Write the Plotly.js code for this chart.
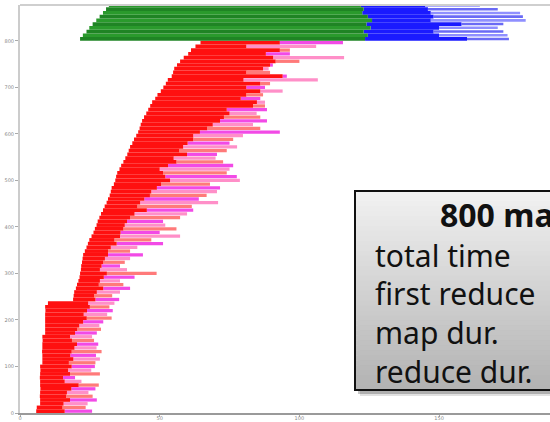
<!DOCTYPE html>
<html>
<head>
<meta charset="utf-8">
<script src="https://cdn.plot.ly/plotly-3.0.1.min.js"></script>
<style>html,body{margin:0;padding:0;background:#fff;}#chart{width:550px;height:422px;}</style>
</head>
<body>
<div id="chart"></div>
<script>
// ---- Map tasks, grouped 8 tasks per row (row 0 = tasks 0-7, ... row 99 = tasks 792-799) ----
const mapStart = [5.8,6.0,7.2,7.2,7.1,7.2,7.3,7.2,7.2,7.1,7.2,7.3,7.2,8.0,8.0,8.0,7.9,8.0,8.0,8.1,8.0,9.0,9.0,9.0,9.0,9.0,9.0,9.1,9.0,10.0,
  19.0,19.2,19.4,20.0,20.4,20.9,21.3,21.5,21.8,21.9,22.2,22.4,22.6,23.2,23.8,24.3,24.8,25.6,26.3,26.8,
  27.4,27.8,28.4,29.0,29.7,30.3,31.0,31.5,32.1,32.5,32.8,33.6,34.1,34.4,34.8,35.6,36.2,37.0,37.7,38.4,
  38.9,39.4,40.2,40.8,41.6,42.3,42.8,43.2,43.7,44.4,45.2,45.9,46.6,47.3,48.4,49.2,50.4,51.3,52.2,52.9,
  54.3,54.8,55.2,56.2,57.3,58.6,60.2,61.2,62.8,64.6];
const mapRedEnd = [16.0,15.2,15.6,17.9,16.5,16.8,18.4,21.0,16.0,15.4,17.9,17.2,18.5,17.5,19.1,18.0,18.5,19.5,20.4,18.6,
  17.9,19.7,20.5,21.2,22.6,23.9,22.8,24.0,25.0,24.4,27.0,26.5,27.5,29.8,28.2,28.6,30.0,31.1,28.6,29.2,
  29.8,30.4,31.5,31.5,32.5,34.6,33.8,35.8,36.0,37.0,37.5,38.3,39.4,41.0,45.4,42.0,43.0,44.5,46.5,47.0,
  49.0,50.5,53.7,52.0,51.2,50.0,53.0,56.0,55.0,59.8,57.0,58.4,60.0,62.0,62.0,64.4,67.0,69.0,71.6,73.0,
  75.0,74.0,83.4,84.8,79.0,81.0,86.0,81.0,86.0,80.0,94.0,81.0,87.0,89.5,91.5,90.6,88.0,93.0,81.0,93.0];
const mapEnd = [25.8,23.5,24.2,27.5,26.0,24.5,27.0,28.2,22.0,19.7,28.6,25.5,26.8,27.0,28.6,27.2,29.2,27.4,28.0,26.5,
  25.8,27.5,29.0,28.4,29.8,32.8,31.2,33.2,32.0,33.8,35.5,33.0,35.8,39.4,37.0,35.8,41.0,48.9,38.3,35.8,
  37.5,39.4,44.0,39.4,42.0,51.2,47.0,57.3,50.0,56.0,52.0,51.2,57.3,59.8,62.0,61.5,70.9,64.0,66.8,70.5,
  71.6,68.0,78.7,77.6,74.0,75.0,76.3,72.7,70.0,70.5,74.0,77.7,75.0,76.3,79.8,93.0,86.0,83.4,88.4,86.0,
  84.7,88.4,87.7,87.7,86.0,87.0,94.0,87.7,89.5,106.6,95.5,89.5,89.0,90.5,100.0,116.0,96.6,96.6,106.0,115.6];

// ---- Reduce tasks, grouped 8 per row (row 0 = tasks 800-807 ...) ----
const redStart   = [21.5,22.5,23.8,24.8,26.0,27.3,28.5,29.7,30.8,31.8];
const shuffleEnd = [123.5,124.5,123.0,125.5,124.0,126.0,124.5,122.5,123.0,122.0];
const reduceEnd  = [160,150,148,150,158,147,148,147,146,145];
const reduceTail = [175,174.5,173,171,173,181,180,179,171,164.6];

const yTicks = [0,100,200,300,400,500,600,700,800];
const xTicks = [0,50,100,150];

const boxTitle = "800 maps";
const boxLines = ["total time","first reduce","map dur.","reduce dur."];

// ---- build traces ----
const GROUP = 8;
const mapY = mapStart.map((_, i) => i * GROUP + GROUP / 2);
const redY = redStart.map((_, i) => 800 + i * GROUP + GROUP / 2);
const tailColors = ['#f24ae6', '#ff7a7a', '#ff8fc8'];

const traces = [];
traces.push({
  type:'bar', orientation:'h', y:mapY, base:mapRedEnd,
  x:mapEnd.map((e,i)=>e-mapRedEnd[i]), width:7,
  marker:{color:mapY.map((_,i)=> tailColors[i%3]), line:{width:0}},
  hoverinfo:'skip'
});
traces.push({
  type:'bar', orientation:'h', y:mapY, base:mapStart,
  x:mapRedEnd.map((e,i)=>e-mapStart[i]), width:GROUP,
  marker:{color:'#ff1010', line:{width:0}}, hoverinfo:'skip'
});
traces.push({
  type:'bar', orientation:'h', y:redY, base:reduceEnd,
  x:reduceTail.map((e,i)=>e-reduceEnd[i]), width:5.5,
  marker:{color:redY.map((_,i)=> i%2 ? '#8f8fff' : '#6a6af5'), line:{width:0}}, hoverinfo:'skip'
});
traces.push({
  type:'bar', orientation:'h', y:redY, base:shuffleEnd,
  x:reduceEnd.map((e,i)=>e-shuffleEnd[i]), width:GROUP,
  marker:{color:'#1a1aff', line:{width:0}}, hoverinfo:'skip'
});
traces.push({
  type:'bar', orientation:'h', y:redY, base:redStart,
  x:shuffleEnd.map((e,i)=>e-redStart[i]), width:GROUP,
  marker:{color:redY.map((_,i)=> i%2 ? '#2a9a2c' : '#1f8424'), line:{width:0}}, hoverinfo:'skip'
});

// ---- text box (pixel geometry converted to paper fractions) ----
const W = 550, H = 422, ML = 20, MR = 0, MT = 5, MB = 9;
const PW = W - ML - MR, PH = H - MT - MB;
const px = x => (x - ML) / PW;
const py = y => (H - MB - y) / PH;

const bx0 = 355, bx1 = 600, by0 = 191, by1 = 390;
const shapes = [];
shapes.push({type:'rect', xref:'paper', yref:'paper', x0:px(bx0+5), x1:px(bx1+5), y0:py(by1+6), y1:py(by0+6),
  fillcolor:'rgba(0,0,0,0.12)', line:{width:0}});
shapes.push({type:'rect', xref:'paper', yref:'paper', x0:px(bx0+3), x1:px(bx1+3), y0:py(by1+4), y1:py(by0+4),
  fillcolor:'rgba(0,0,0,0.22)', line:{width:0}});
const N = 40;
for (let k = 0; k < N; k++) {
  const t = (k + 0.5) / N;
  const c = Math.round(242 - t * (242 - 178));
  const ya = by0 + (by1 - by0) * k / N, yb = by0 + (by1 - by0) * (k + 1) / N;
  shapes.push({type:'rect', xref:'paper', yref:'paper', x0:px(bx0), x1:px(bx1), y0:py(yb+0.5), y1:py(ya),
    fillcolor:`rgb(${c},${c},${c})`, line:{width:0}});
}
shapes.push({type:'rect', xref:'paper', yref:'paper', x0:px(bx0), x1:px(bx1), y0:py(by1), y1:py(by0),
  fillcolor:'rgba(0,0,0,0)', line:{color:'#111', width:2}});
shapes.push({type:'line', xref:'paper', yref:'paper', x0:0, x1:1, y0:1, y1:1, line:{color:'#cfcfcf', width:2}});

const annotations = [];
annotations.push({xref:'paper', yref:'paper', x:px(438), y:py(215), xanchor:'left', yanchor:'middle', showarrow:false,
  text:'<b>'+boxTitle+'</b>', font:{family:'Noto Sans, Open Sans, sans-serif', size:32, color:'#111'}});
const baseY = [255, 293, 332, 371];
boxLines.forEach((s, i) => annotations.push({xref:'paper', yref:'paper', x:px(373), y:py(baseY[i]),
  xanchor:'left', yanchor:'middle', showarrow:false, text:s,
  font:{family:'Noto Sans, Open Sans, sans-serif', size:30, color:'#111'}}));

const layout = {
  width:W, height:H, margin:{l:ML, r:MR, t:MT, b:MB, pad:0},
  paper_bgcolor:'#fff', plot_bgcolor:'#fff', showlegend:false, barmode:'overlay',
  xaxis:{range:[0,189.7], showgrid:false, zeroline:false, showline:true, linecolor:'#9a9a9a', linewidth:2,
    ticks:'outside', ticklen:2, tickcolor:'#aaa', tickvals:xTicks, ticktext:xTicks.map(String),
    ticklabelstandoff:-3,
    tickfont:{size:5, color:'#888', family:'DejaVu Sans'}, fixedrange:true},
  yaxis:{range:[0,877], showgrid:false, zeroline:false, showline:true, linecolor:'#cccccc', linewidth:2,
    ticks:'outside', ticklen:3, tickcolor:'#aaa', tickvals:yTicks, ticktext:yTicks.map(String),
    tickfont:{size:5, color:'#888', family:'DejaVu Sans'}, fixedrange:true},
  shapes:shapes, annotations:annotations
};
Plotly.newPlot('chart', traces, layout, {displayModeBar:false, staticPlot:true});
</script>
</body>
</html>
